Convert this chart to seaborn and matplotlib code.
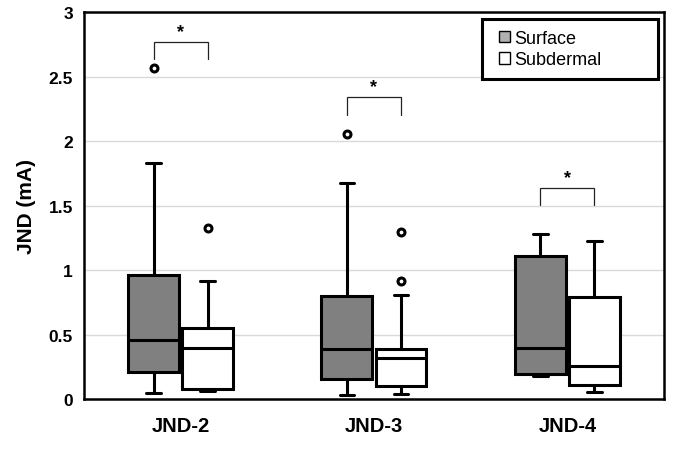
import matplotlib
matplotlib.use("Agg")
import matplotlib.pyplot as plt
from matplotlib.patches import Patch, Rectangle
from matplotlib.legend_handler import HandlerPatch
from matplotlib.ticker import FuncFormatter
import numpy as np
import pandas as pd
import seaborn as sns

# ---- data ----
categories = ["JND-2", "JND-3", "JND-4"]
groups = ["Surface", "Subdermal"]

jnd2_surface = [0.05, 0.12, 0.21, 0.33, 0.46, 0.70, 0.96, 1.83, 2.57]
jnd2_subdermal = [0.067, 0.075, 0.08, 0.25, 0.40, 0.48, 0.555, 0.915, 1.325]
jnd3_surface = [0.033, 0.10, 0.157, 0.28, 0.39, 0.60, 0.803, 1.677, 2.06]
jnd3_subdermal = [0.041, 0.06, 0.08, 0.10, 0.20, 0.28, 0.318, 0.34, 0.36, 0.39, 0.811, 0.915, 1.297]
jnd4_surface = [0.183, 0.19, 0.194, 0.30, 0.398, 0.80, 1.111, 1.20, 1.281]
jnd4_subdermal = [0.054, 0.08, 0.111, 0.20, 0.256, 0.50, 0.795, 1.00, 1.23]

# significance brackets (y of bracket top and leg ends), one per category
bracket_top = [2.772, 2.341, 1.636]
bracket_leg = [2.640, 2.205, 1.506]
sig_labels = ["*", "*", "*"]

yticks = [0, 0.5, 1, 1.5, 2, 2.5, 3]
ylabel = "JND (mA)"

series = {
    ("JND-2", "Surface"): jnd2_surface,
    ("JND-2", "Subdermal"): jnd2_subdermal,
    ("JND-3", "Surface"): jnd3_surface,
    ("JND-3", "Subdermal"): jnd3_subdermal,
    ("JND-4", "Surface"): jnd4_surface,
    ("JND-4", "Subdermal"): jnd4_subdermal,
}
rows = []
for (cat, grp), vals in series.items():
    for v in vals:
        rows.append({"cond": cat, "type": grp, "jnd": v})
df = pd.DataFrame(rows)

# ---- style ----
sns.set_style("white")
plt.rcParams["font.family"] = ["Liberation Sans", "DejaVu Sans"]
plt.rcParams["text.color"] = "black"
plt.rcParams["axes.labelcolor"] = "black"
plt.rcParams["xtick.color"] = "black"
plt.rcParams["ytick.color"] = "black"

fig = plt.figure(figsize=(6.75, 4.52), dpi=100)
ax = fig.add_axes([0.1244, 0.1144, 0.9837 - 0.1244, 0.9706 - 0.1144])

box_w = 0.56
sns.boxplot(
    data=df, x="cond", y="jnd", hue="type",
    order=categories, hue_order=groups,
    palette={"Surface": "#808080", "Subdermal": "white"},
    width=box_w, gap=0.06, linecolor="black", linewidth=2.2,
    whis=1.5, capwidths=0.075, saturation=1,
    flierprops=dict(marker="o", markersize=5, markerfacecolor="white",
                    markeredgecolor="black", markeredgewidth=2.2),
    legend=False, ax=ax,
)

# significance brackets
off = box_w / 4
for i, cat in enumerate(categories):
    xl, xr = i - off, i + off
    ax.plot([xl, xl, xr, xr], [bracket_leg[i], bracket_top[i], bracket_top[i], bracket_leg[i]],
            color="#222222", linewidth=0.9, solid_joinstyle="miter", zorder=5)
    ax.text(i, bracket_top[i] + 0.045, sig_labels[i], ha="center", va="baseline",
            fontsize=13, fontweight="bold", color="black", zorder=5)

ax.set_xlim(-0.5, 2.5)
ax.set_ylim(0, 3)
ax.set_yticks(yticks)
ax.yaxis.set_major_formatter(FuncFormatter(lambda v, p: f"{v:g}"))
ax.set_xlabel("")
ax.set_ylabel(ylabel, fontsize=15, fontweight="bold", labelpad=9, color="black")
ax.tick_params(axis="y", length=0, pad=8, labelsize=12.5, labelcolor="black")
ax.tick_params(axis="x", length=0, pad=12, labelsize=14.5, labelcolor="black")
for lab in ax.get_xticklabels() + ax.get_yticklabels():
    lab.set_fontweight("bold")

ax.yaxis.grid(True, color="#d9d9d9", linewidth=1.0)
ax.xaxis.grid(False)
ax.set_axisbelow(True)
for sp in ax.spines.values():
    sp.set_visible(True)
    sp.set_color("black")
    sp.set_linewidth(1.8)


def square_right(legend, orig_handle, xdescent, ydescent, width, height, fontsize):
    return Rectangle((-xdescent + width - height, -ydescent), height, height)


handles = [
    Patch(facecolor="#b0b0b0", edgecolor="black", linewidth=1.0, label="Surface"),
    Patch(facecolor="white", edgecolor="black", linewidth=1.0, label="Subdermal"),
]
leg = ax.legend(
    handles=handles, loc="upper right",
    bbox_to_anchor=(0.687, 0.7, 0.302, 0.2827), mode="expand",
    fontsize=13, frameon=True, fancybox=False, borderaxespad=0,
    handlelength=0.95, handleheight=0.6, handletextpad=0.2,
    borderpad=0.6, labelspacing=0.25,
    handler_map={Patch: HandlerPatch(patch_func=square_right)},
)
for t in leg.get_texts():
    t.set_color("black")
fr = leg.get_frame()
fr.set_edgecolor("black")
fr.set_linewidth(2.2)
fr.set_alpha(1)

fig.savefig("out.png", dpi=100)
